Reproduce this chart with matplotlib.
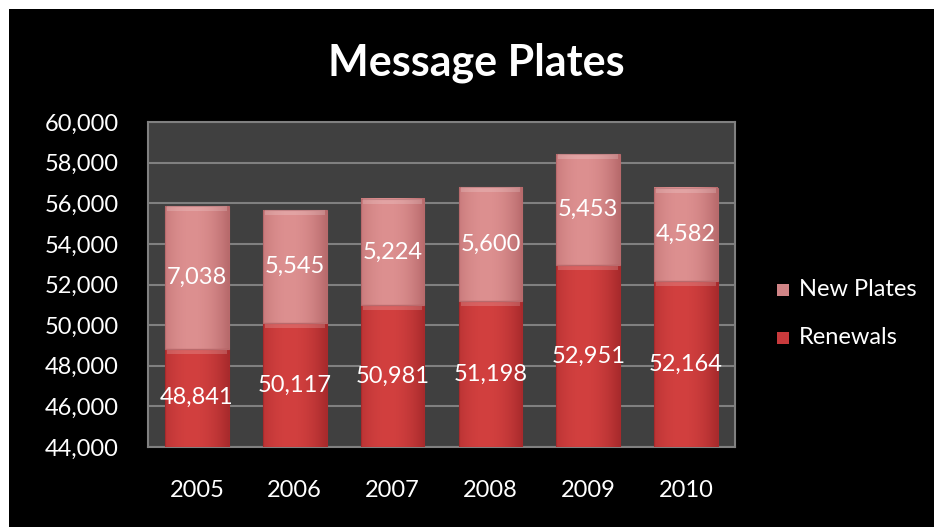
import matplotlib
matplotlib.use('Agg')
import matplotlib.pyplot as plt
import numpy as np
from matplotlib.patches import Rectangle
from matplotlib.ticker import MultipleLocator, FuncFormatter

years = ['2005', '2006', '2007', '2008', '2009', '2010']
renewals = [48841, 50117, 50981, 51198, 52951, 52164]
new_plates = [7038, 5545, 5224, 5600, 5453, 4582]

plt.rcParams['font.family'] = ['Lato', 'DejaVu Sans']

fig = plt.figure(figsize=(9.34, 5.27), dpi=100)
fig.patch.set_facecolor('white')
# black slide background, white strip on top and left
fig.patches.append(Rectangle((9 / 934, 0), 1, 1 - 9 / 527, transform=fig.transFigure,
                             facecolor='black', edgecolor='none', zorder=-10))

ax = fig.add_axes([148 / 934, 1 - 447 / 527, (735 - 148) / 934, (447 - 122) / 527])
ax.set_facecolor('#404040')
for s in ax.spines.values():
    s.set_color('#808080')
    s.set_linewidth(1.5)

ymin = 44000
x = np.arange(len(years))
w = 0.65

def grad_bar(x0, bottom, top, c_dark, c_light):
    # horizontal shading inside a bar, lighter left-centre, darker edges
    t = np.linspace(0, 1, 64)
    prof = 1 - (np.abs(t - 0.42) / 0.58) ** 2
    cd = np.array(matplotlib.colors.to_rgb(c_dark))
    cl = np.array(matplotlib.colors.to_rgb(c_light))
    img = cd[None, :] + (cl - cd)[None, :] * prof[:, None]
    img = np.repeat(img[None, :, :], 2, axis=0)
    ax.imshow(img, extent=[x0 - w / 2, x0 + w / 2, bottom, top], aspect='auto',
              interpolation='bicubic', zorder=3)
    ax.add_patch(Rectangle((x0 - w / 2, bottom), w, top - bottom, facecolor='none',
                           edgecolor=c_dark, linewidth=0.8, zorder=4))
    # top bevel highlight
    h = 250
    ax.add_patch(Rectangle((x0 - w / 2 + 0.02, top - h), w - 0.04, h, facecolor='white',
                           alpha=0.18, edgecolor='none', zorder=4))

tops = [r + n for r, n in zip(renewals, new_plates)]
for i in range(len(years)):
    grad_bar(x[i], ymin, renewals[i], '#a82a2c', '#d2403f')
    grad_bar(x[i], renewals[i], tops[i], '#b86a6c', '#dd9090')
    ax.text(x[i], (ymin + renewals[i]) / 2, f'{renewals[i]:,}', ha='center', va='center',
            color='white', fontsize=17, zorder=6)
    ax.text(x[i], (renewals[i] + tops[i]) / 2, f'{new_plates[i]:,}', ha='center', va='center',
            color='white', fontsize=17, zorder=6)

ax.set_xlim(-0.5, len(years) - 0.5)
ax.set_ylim(ymin, 60000)
ax.yaxis.set_major_locator(MultipleLocator(2000))
ax.yaxis.set_major_formatter(FuncFormatter(lambda v, p: f'{int(v):,}'))
ax.grid(axis='y', color='#808080', linewidth=1.5, zorder=1)
ax.set_axisbelow(True)
ax.set_xticks(x)
ax.set_xticklabels(years)
ax.tick_params(axis='both', length=0, colors='white', labelsize=17)
ax.tick_params(axis='x', pad=24)
ax.tick_params(axis='y', pad=21)

fig.text(476 / 934, 1 - 63 / 527, 'Message Plates', ha='center', va='center',
         color='white', fontsize=31, fontweight='bold')

# legend
for label, col, yy in [('New Plates', '#d08486', 290), ('Renewals', '#c83a3c', 338)]:
    fig.patches.append(Rectangle((777 / 934, 1 - (yy + 6) / 527), 12 / 934, 12 / 527,
                                 transform=fig.transFigure, facecolor=col, edgecolor='none'))
    fig.text(799 / 934, 1 - yy / 527, label, ha='left', va='center', color='white', fontsize=17)

fig.savefig('out.png', dpi=100, facecolor=fig.get_facecolor())
